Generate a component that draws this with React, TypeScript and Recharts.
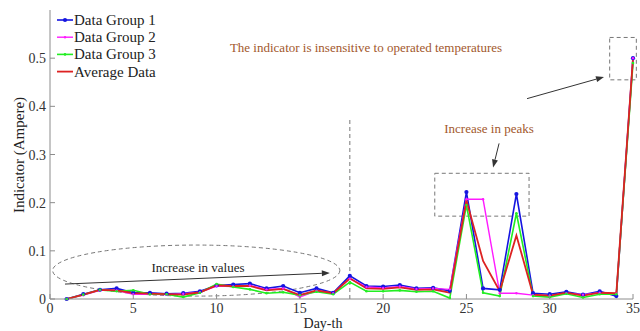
import { LineChart, Line, XAxis, YAxis, ReferenceLine, ReferenceArea } from "recharts";

const DAYS = [1, 2, 3, 4, 5, 6, 7, 8, 9, 10, 11, 12, 13, 14, 15, 16, 17, 18, 19, 20, 21, 22, 23, 24, 25, 26, 27, 28, 29, 30, 31, 32, 33, 34, 35];

const GROUP_1 = [0, 0.01, 0.019, 0.022, 0.013, 0.013, 0.011, 0.012, 0.016, 0.028, 0.03, 0.032, 0.022, 0.027, 0.013, 0.022, 0.013, 0.048, 0.027, 0.026, 0.029, 0.022, 0.023, 0.017, 0.222, 0.022, 0.019, 0.218, 0.012, 0.01, 0.015, 0.009, 0.016, 0.006, 0.5];
const GROUP_2 = [0, 0.008, 0.018, 0.018, 0.01, 0.01, 0.009, 0.011, 0.014, 0.027, 0.026, 0.028, 0.02, 0.022, 0.004, 0.017, 0.012, 0.042, 0.025, 0.023, 0.026, 0.021, 0.022, 0.02, 0.207, 0.207, 0.012, 0.012, 0.008, 0.007, 0.012, 0.009, 0.013, 0.011, 0.5];
const GROUP_3 = [0, 0.009, 0.019, 0.016, 0.018, 0.01, 0.01, 0.004, 0.013, 0.031, 0.025, 0.02, 0.012, 0.014, 0.008, 0.015, 0.01, 0.035, 0.016, 0.016, 0.018, 0.015, 0.016, 0.002, 0.195, 0.013, 0.006, 0.178, 0.006, 0.004, 0.011, 0.003, 0.01, 0.01, 0.49];
const AVERAGE = [0, 0.009, 0.019, 0.018, 0.012, 0.011, 0.01, 0.009, 0.014, 0.028, 0.027, 0.027, 0.018, 0.021, 0.008, 0.018, 0.012, 0.043, 0.022, 0.021, 0.024, 0.019, 0.02, 0.013, 0.205, 0.079, 0.016, 0.132, 0.009, 0.007, 0.013, 0.007, 0.013, 0.012, 0.5];

const X_TICKS = [0, 5, 10, 15, 20, 25, 30, 35];
const Y_TICKS = [0, 0.1, 0.2, 0.3, 0.4, 0.5];

const SERIES = [
  { key: "g1", name: "Data Group 1", color: "#1515e0", dot: 2.1, width: 1.6 },
  { key: "g2", name: "Data Group 2", color: "#ff1aff", dot: 1.2, width: 1.4 },
  { key: "g3", name: "Data Group 3", color: "#22ee22", dot: 1.3, width: 1.6 },
  { key: "avg", name: "Average Data", color: "#dd2222", dot: 0, width: 1.8 },
];

const FONT = "'Liberation Serif', 'Times New Roman', serif";
const FRAME = "#8c8c8c";
const DASH = "#777";
const NOTE = "#a2582c";

const data = DAYS.map((d, i) => ({
  day: d,
  g1: GROUP_1[i],
  g2: GROUP_2[i],
  g3: GROUP_3[i],
  avg: AVERAGE[i],
}));

function BottomTick({ x, y, payload }: any) {
  return (
    <g>
      <line x1={x} y1={y} x2={x} y2={y - 5} stroke={FRAME} />
      <text x={x} y={y + 14} textAnchor="middle" fontSize={14} fill="#333" fontFamily={FONT}>
        {payload.value}
      </text>
    </g>
  );
}

function LeftTick({ x, y, payload }: any) {
  return (
    <g>
      <line x1={x} y1={y} x2={x + 5} y2={y} stroke={FRAME} />
      <text x={x - 4} y={y + 5} textAnchor="end" fontSize={14} fill="#333" fontFamily={FONT}>
        {String(payload.value)}
      </text>
    </g>
  );
}

function TopTick({ x, y }: any) {
  return <line x1={x} y1={y} x2={x} y2={y + 5} stroke={FRAME} />;
}

function RightTick({ x, y }: any) {
  return <line x1={x} y1={y} x2={x - 5} y2={y} stroke={FRAME} />;
}

function Arrow({ x1, y1, x2, y2 }: any) {
  const a = Math.atan2(y2 - y1, x2 - x1);
  const bx = x2 - 8 * Math.cos(a);
  const by = y2 - 8 * Math.sin(a);
  const px = 3 * Math.sin(a);
  const py = 3 * Math.cos(a);
  return (
    <g>
      <line x1={x1} y1={y1} x2={bx} y2={by} stroke="#333" strokeWidth={1} />
      <polygon points={`${x2},${y2} ${bx + px},${by - py} ${bx - px},${by + py}`} fill="#333" />
    </g>
  );
}

function Ellipse({ x, y, width, height }: any) {
  return (
    <ellipse
      cx={x + width / 2}
      cy={y + height / 2}
      rx={width / 2}
      ry={height / 2}
      fill="none"
      stroke={DASH}
      strokeDasharray="4 3"
    />
  );
}

export default function App() {
  return (
    <div style={{ position: "absolute", left: 0, top: 0, width: 640, height: 331, background: "#fff" }}>
      <LineChart width={640} height={331} data={data} margin={{ top: 10, right: 7, left: 0, bottom: 0 }}>
        <XAxis
          dataKey="day"
          type="number"
          domain={[0, 35]}
          ticks={X_TICKS}
          interval={0}
          height={32}
          tickSize={0}
          tickMargin={0}
          tickLine={false}
          axisLine={{ stroke: FRAME }}
          tick={(p: any) => <BottomTick {...p} />}
        />
        <XAxis
          xAxisId="top"
          orientation="top"
          type="number"
          domain={[0, 35]}
          ticks={X_TICKS}
          interval={0}
          height={0}
          tickSize={0}
          tickMargin={0}
          tickLine={false}
          axisLine={{ stroke: FRAME }}
          tick={(p: any) => <TopTick {...p} />}
        />
        <YAxis
          type="number"
          domain={[0, 0.6]}
          ticks={Y_TICKS}
          interval={0}
          width={50}
          tickSize={0}
          tickMargin={0}
          tickLine={false}
          axisLine={{ stroke: FRAME }}
          tick={(p: any) => <LeftTick {...p} />}
        />
        <YAxis
          yAxisId="right"
          orientation="right"
          type="number"
          domain={[0, 0.6]}
          ticks={Y_TICKS}
          interval={0}
          width={0}
          tickSize={0}
          tickMargin={0}
          tickLine={false}
          axisLine={{ stroke: FRAME }}
          tick={(p: any) => <RightTick {...p} />}
        />

        <ReferenceLine
          segment={[{ x: 18, y: 0 }, { x: 18, y: 0.373 }]}
          stroke={DASH}
          strokeDasharray="4 3"
        />
        <ReferenceArea x1={0.16} x2={17.4} y1={0.006} y2={0.112} shape={(p: any) => <Ellipse {...p} />} />
        <ReferenceArea
          x1={23.1}
          x2={28.76}
          y1={0.172}
          y2={0.261}
          fill="none"
          stroke={DASH}
          strokeDasharray="4 3"
        />
        <ReferenceArea
          x1={33.6}
          x2={35.2}
          y1={0.455}
          y2={0.543}
          ifOverflow="visible"
          fill="none"
          stroke={DASH}
          strokeDasharray="4 3"
        />
        <ReferenceLine segment={[{ x: 0.9, y: 0.031 }, { x: 16.8, y: 0.054 }]} shape={(p: any) => <Arrow {...p} />} />
        <ReferenceLine segment={[{ x: 26.96, y: 0.323 }, { x: 26.6, y: 0.273 }]} shape={(p: any) => <Arrow {...p} />} />
        <ReferenceLine segment={[{ x: 28.64, y: 0.416 }, { x: 33.26, y: 0.461 }]} shape={(p: any) => <Arrow {...p} />} ifOverflow="visible" />

        {SERIES.map((s) => (
          <Line
            key={s.key}
            dataKey={s.key}
            name={s.name}
            type="linear"
            stroke={s.color}
            strokeWidth={s.width}
            dot={s.dot ? { r: s.dot, fill: s.color, stroke: "none" } : false}
            activeDot={false}
            isAnimationActive={false}
          />
        ))}
      </LineChart>

      <svg
        width={640}
        height={331}
        style={{ position: "absolute", left: 0, top: 0, pointerEvents: "none" }}
        fontFamily={FONT}
      >
        {SERIES.map((s, i) => {
          const cy = 20 + i * 17.2;
          return (
            <g key={s.key}>
              <line x1={57} y1={cy} x2={73} y2={cy} stroke={s.color} strokeWidth={s.width} />
              {s.dot ? <circle cx={65} cy={cy} r={s.dot} fill={s.color} /> : null}
              <text x={74} y={cy + 5} fontSize={15} fill="#222">
                {s.name}
              </text>
            </g>
          );
        })}

        <text x={366} y={52} textAnchor="middle" fontSize={13} fill={NOTE}>
          The indicator is insensitive to operated temperatures
        </text>
        <text x={198} y={272} textAnchor="middle" fontSize={13} fill="#222">
          Increase in values
        </text>
        <text x={489} y={133} textAnchor="middle" fontSize={13} fill={NOTE}>
          Increase in peaks
        </text>

        <text x={323} y={328} textAnchor="middle" fontSize={14} fill="#222">
          Day-th
        </text>
        <text
          x={0}
          y={0}
          transform="translate(24 155) rotate(-90)"
          textAnchor="middle"
          fontSize={15}
          fill="#222"
        >
          Indicator (Ampere)
        </text>
      </svg>
    </div>
  );
}
